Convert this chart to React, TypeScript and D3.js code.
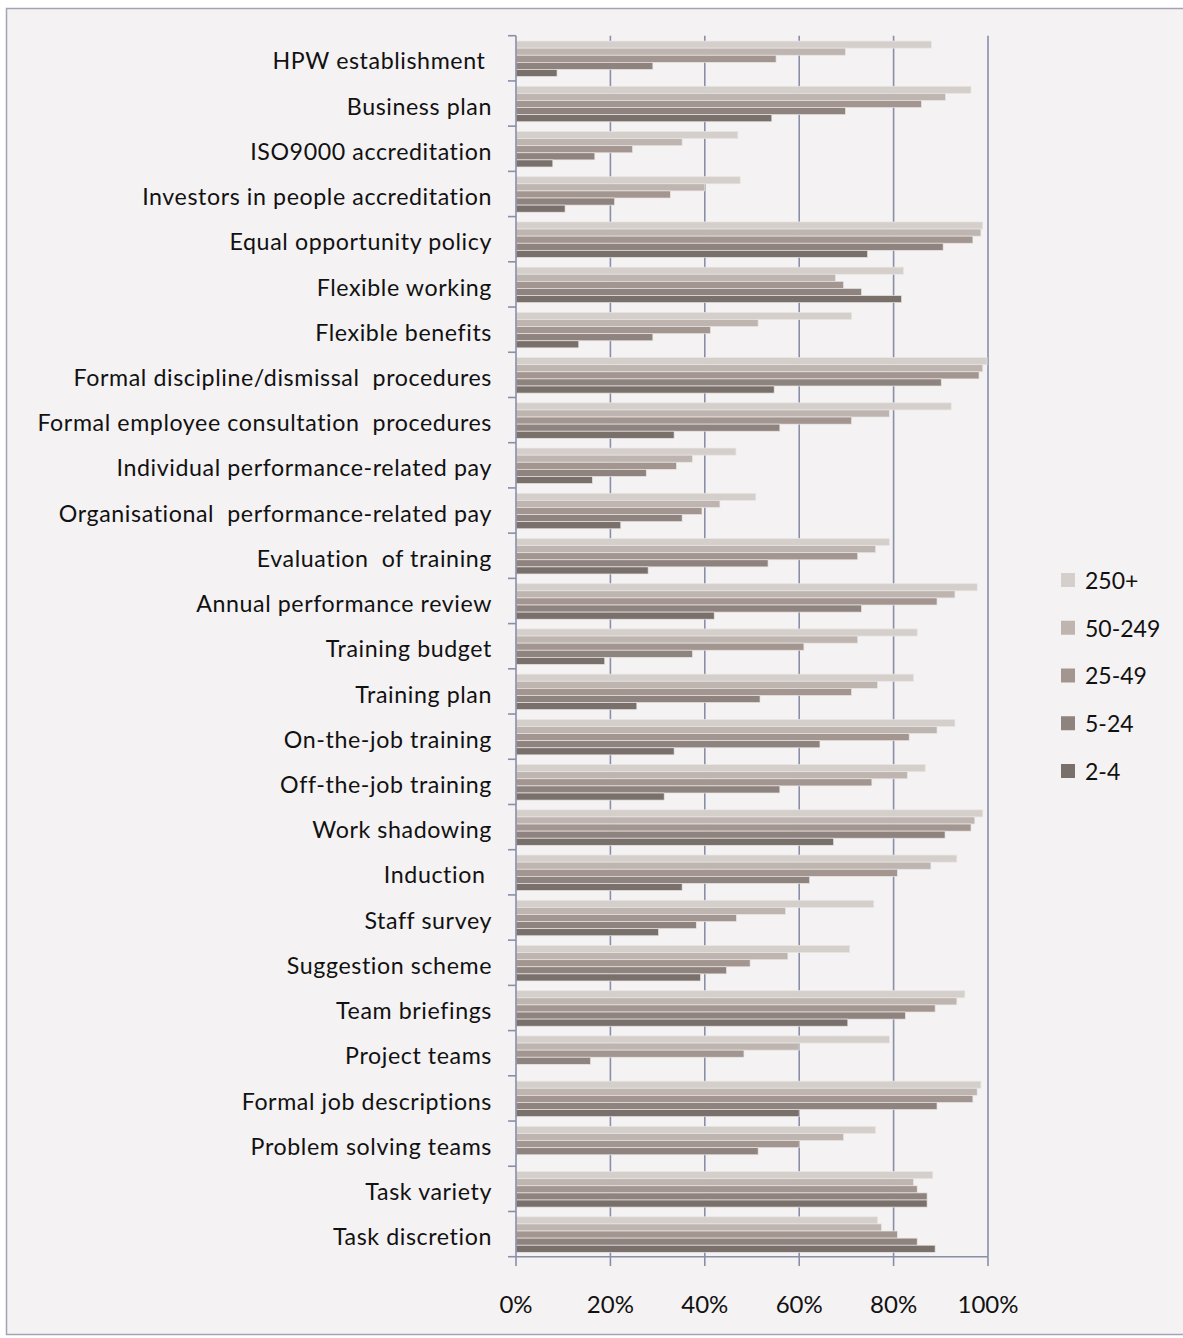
import React from "react";
import * as d3 from "d3";

// Practices, listed top to bottom
const practices = [
  "HPW establishment ",
  "Business plan",
  "ISO9000 accreditation",
  "Investors in people accreditation",
  "Equal opportunity policy",
  "Flexible working",
  "Flexible benefits",
  "Formal discipline/dismissal  procedures",
  "Formal employee consultation  procedures",
  "Individual performance-related pay",
  "Organisational  performance-related pay",
  "Evaluation  of training",
  "Annual performance review",
  "Training budget",
  "Training plan",
  "On-the-job training",
  "Off-the-job training",
  "Work shadowing",
  "Induction ",
  "Staff survey",
  "Suggestion scheme",
  "Team briefings",
  "Project teams",
  "Formal job descriptions",
  "Problem solving teams",
  "Task variety",
  "Task discretion",
];

// Establishment size bands (legend order, top bar first)
const sizeBands = ["250+", "50-249", "25-49", "5-24", "2-4"];

// Share of establishments using each practice, in percent
const size250plus = [88.0, 96.4, 47.0, 47.5, 98.9, 82.1, 71.1, 99.8, 92.2, 46.6, 50.8, 79.1, 97.7, 85.0, 84.2, 93.0, 86.7, 98.9, 93.4, 75.8, 70.7, 95.1, 79.1, 98.5, 76.2, 88.3, 76.6];
const size50to249 = [69.8, 91.0, 35.2, 40.0, 98.5, 67.7, 51.3, 98.9, 79.1, 37.4, 43.2, 76.2, 93.0, 72.4, 76.6, 89.2, 82.9, 97.2, 87.9, 57.1, 57.6, 93.4, 60.0, 97.7, 69.4, 84.2, 77.4];
const size25to49 = [55.1, 85.9, 24.7, 32.7, 96.8, 69.4, 41.2, 98.1, 71.1, 34.0, 39.4, 72.4, 89.2, 61.0, 71.1, 83.3, 75.4, 96.4, 80.8, 46.7, 49.6, 88.8, 48.3, 96.8, 60.0, 85.0, 80.8];
const size5to24 = [29.0, 69.8, 16.7, 20.9, 90.5, 73.2, 29.0, 90.1, 55.9, 27.6, 35.2, 53.4, 73.2, 37.4, 51.7, 64.4, 55.9, 90.9, 62.2, 38.2, 44.6, 82.5, 15.8, 89.2, 51.3, 87.1, 85.0];
const size2to4: (number | null)[] = [8.7, 54.2, 7.8, 10.4, 74.5, 81.7, 13.3, 54.7, 33.5, 16.2, 22.2, 28.0, 42.0, 18.8, 25.6, 33.5, 31.4, 67.3, 35.2, 30.2, 39.1, 70.3, null, 60.0, null, 87.1, 88.8];

const seriesValues = [size250plus, size50to249, size25to49, size5to24, size2to4];
const seriesColors = ["#d5cfcc", "#beb5b1", "#a3958f", "#8e837e", "#7a706b"];

const xTicks = [0, 20, 40, 60, 80, 100];

const W = 1183;
const H = 1338;
const FONT = "Lato, 'Open Sans', sans-serif";
const AXIS = "#8a8fa8";

export default function App() {
  const x = d3.scaleLinear().domain([0, 100]).range([516, 988]);
  const y = d3.scaleBand<string>().domain(practices).range([35.7, 1256.7]).padding(0);
  const inner = d3
    .scaleBand<string>()
    .domain(sizeBands)
    .range([0, y.bandwidth()])
    .paddingInner(0)
    .paddingOuter(0.685)
    .align(0.55);

  const legendY = d3.scalePoint<string>().domain(sizeBands).range([580, 771]);

  const bandEdges = practices.map((p) => y(p) as number).concat([y.range()[1]]);

  return (
    <svg
      width={W}
      height={H}
      style={{ position: "absolute", left: 0, top: 0, background: "#ffffff" }}
      fontFamily={FONT}
    >
      <rect x={6.5} y={8.5} width={W + 20} height={1326} fill="#f4f2f3" stroke="#a2a4b6" strokeWidth={1.5} />

      {/* vertical gridlines */}
      {xTicks.slice(1).map((t) => (
        <line key={"g" + t} x1={x(t)} x2={x(t)} y1={35.7} y2={1256.7} stroke={AXIS} strokeWidth={1.6} />
      ))}

      {/* bars */}
      {sizeBands.map((s, si) =>
        practices.map((p, pi) => {
          const v = seriesValues[si][pi];
          if (v == null) return null;
          return (
            <rect
              key={s + "-" + pi}
              x={x(0)}
              y={(y(p) as number) + (inner(s) as number)}
              width={x(v) - x(0)}
              height={inner.bandwidth()}
              fill={seriesColors[si]}
              stroke="#e9e5e3"
              strokeWidth={0.7}
            />
          );
        })
      )}

      {/* category axis */}
      <line x1={x(0)} x2={x(0)} y1={35.7} y2={1257} stroke={AXIS} strokeWidth={1.6} />
      {bandEdges.map((e, i) => (
        <line key={"yt" + i} x1={508} x2={x(0)} y1={e} y2={e} stroke={AXIS} strokeWidth={1.6} />
      ))}
      {practices.map((p) => (
        <text
          key={"l" + p}
          x={492}
          y={(y(p) as number) + y.bandwidth() / 2}
          dy="0.48em"
          textAnchor="end"
          fontSize={23.2}
          letterSpacing={0.6}
          fill="#111"
          style={{ whiteSpace: "pre" }}
        >
          {p}
        </text>
      ))}

      {/* value axis */}
      <line x1={x(0)} x2={x(100)} y1={1256.7} y2={1256.7} stroke={AXIS} strokeWidth={1.6} />
      {xTicks.map((t) => (
        <line key={"xt" + t} x1={x(t)} x2={x(t)} y1={1256.7} y2={1266} stroke={AXIS} strokeWidth={1.6} />
      ))}
      {xTicks.map((t) => (
        <text key={"xl" + t} x={x(t)} y={1313} textAnchor="middle" fontSize={24} fill="#111">
          {t + "%"}
        </text>
      ))}

      {/* legend */}
      {sizeBands.map((s, si) => (
        <g key={"lg" + s} transform={`translate(0, ${legendY(s)})`}>
          <rect x={1061} y={-7} width={14} height={14} fill={seriesColors[si]} />
          <text x={1085} y={0} dy="0.38em" fontSize={23} fill="#111">
            {s}
          </text>
        </g>
      ))}
    </svg>
  );
}
